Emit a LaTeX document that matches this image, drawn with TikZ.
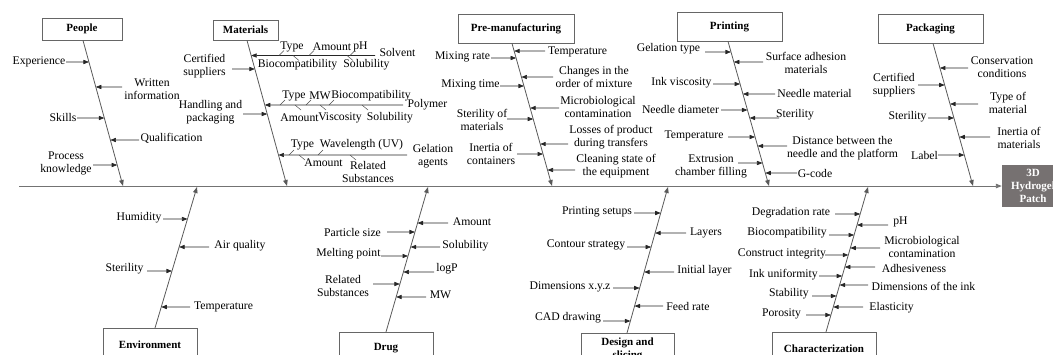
\documentclass[tikz,border=0pt]{standalone}
\usepackage{fontspec}
\setmainfont{Liberation Serif}
\usetikzlibrary{arrows.meta,calc}
\definecolor{headgray}{HTML}{767171}
\definecolor{bonegray}{HTML}{595959}
\definecolor{boxgray}{HTML}{666666}
\newcommand\fblabfont{\fontsize{11.7}{13}\selectfont}
\newcommand\fbcatfont{\fontsize{11}{13}\selectfont\bfseries}
% cause: name, bone prefix, label cx, label cy, text, arrow start x, arrow y
\newcommand\fbcause[7]{%
  \node[lab] (#1) at (#3,#4) {#5};
  \coordinate (#1s) at (#6,#7);
  \coordinate (#1t) at (intersection of #2a--#2b and 0,#7--1,#7);
  \draw[arr] (#1s) -- (#1t);}
% sub label above line: name, cx, cy, text, line y, tick x
\newcommand\fbsubup[6]{%
  \node[lab] (#1) at (#2,#3) {#4};
  \coordinate (#1a) at (#6,#5);
  \draw[tickline] (#1a) -- ++(5,-5);}
\newcommand\fbsubdn[6]{%
  \node[lab] (#1) at (#2,#3) {#4};
  \coordinate (#1a) at (#6,#5);
  \draw[tickline] (#1a) -- ++(6,5);}
\tikzset{
  lab/.style={font=\fblabfont, inner sep=0pt, align=center},
  cat/.style={draw=boxgray, line width=0.8pt, fill=white, font=\fbcatfont, inner sep=2pt, align=center},
  bone/.style={draw=bonegray, line width=0.8pt, -{Triangle[length=6pt,width=4.5pt]}},
  spine/.style={draw=black!55, line width=0.9pt, -{Triangle[length=6pt,width=4.5pt]}},
  arr/.style={draw=black!85, line width=0.6pt, -{Triangle[length=5.5pt,width=4.2pt]}},
  tickline/.style={draw=black!70, line width=0.5pt},
  head/.style={fill=headgray, text=white, font=\fbcatfont, align=center, inner sep=0pt, minimum width=62pt, minimum height=42pt},
}
\begin{document}
\begin{tikzpicture}[x=1pt,y=-1pt]
\useasboundingbox (0,0) rectangle (1053,354);
\clip (0,0) rectangle (1053,354);

% head and spine
\node[head] (H) at (1033,186) {3D\\Hydrogel\\Patch};
\coordinate (S0) at (19,186);
\draw[spine] (S0) -- (H.west);

% category boxes (top)
\node[cat, minimum width=80pt, minimum height=22pt] (People) at (82,29) {People};
\node[cat, minimum width=65pt, minimum height=20pt] (Materials) at (245.5,30) {Materials};
\node[cat, minimum width=116pt, minimum height=29pt] (Pre) at (516,28.5) {Pre-manufacturing};
\node[cat, minimum width=105pt, minimum height=29pt] (Printing) at (729.5,26.5) {Printing};
\node[cat, minimum width=105pt, minimum height=29pt] (Packaging) at (930.5,28.5) {Packaging};
% category boxes (bottom)
\node[cat, anchor=north, minimum width=94pt, minimum height=32pt] (Environment) at (150,328) {Environment};
\node[cat, anchor=north, minimum width=94pt, minimum height=32pt] (Drug) at (386,332) {Drug};
\node[cat, anchor=north, minimum width=93pt, minimum height=32pt, inner ysep=1pt] (Design) at (627.5,333) {Design and\\slicing};
\node[cat, anchor=north, minimum width=104pt, minimum height=32pt] (Char) at (824,332) {Characterization};

% bones
\coordinate (Pa) at (People.south -| 83,0);   \coordinate (Pb) at (123,186);
\coordinate (Ma) at (Materials.south -| 247,0); \coordinate (Mb) at (287,186);
\coordinate (Ra) at (Pre.south -| 512,0);     \coordinate (Rb) at (552,186);
\coordinate (Ta) at (Printing.south -| 728,0); \coordinate (Tb) at (769,186);
\coordinate (Ka) at (Packaging.south -| 933,0); \coordinate (Kb) at (973,186);
\coordinate (Ea) at (Environment.north -| 155,0); \coordinate (Eb) at (197,187);
\coordinate (Da) at (Drug.north -| 386,0);    \coordinate (Db) at (428,187);
\coordinate (Ga) at (Design.north -| 627,0);  \coordinate (Gb) at (668,187);
\coordinate (Ca) at (Char.north -| 826,0);    \coordinate (Cb) at (868,187);
\foreach \b in {P,M,R,T,K,E,D,G,C} {\draw[bone] (\b a) -- (\b b);}

% People
\fbcause{p1}{P}{39}{62}{Experience}{66}{62}
\fbcause{p2}{P}{152}{89.5}{Written\\information}{122}{87}
\fbcause{p3}{P}{63}{117}{Skills}{77}{118}
\fbcause{p4}{P}{171.5}{138}{Qualification}{139}{140}
\fbcause{p5}{P}{66}{163.5}{Process\\knowledge}{93}{165}

% Materials
\fbcause{m1}{M}{204.5}{66}{Certified\\suppliers}{232}{69}
\fbcause{m2}{M}{210.5}{112}{Handling and\\packaging}{243}{114}
\fbcause{ms}{M}{397.5}{52}{Solvent}{375}{55.5}
\fbcause{mp}{M}{427.5}{105}{Polymer}{403}{105}
\fbcause{mg}{M}{433}{156.5}{Gelation\\agents}{407}{155}
% solvent sub-labels
\fbsubup{sa1}{292}{47}{Type}{55.5}{279}
\fbsubup{sa2}{332}{47}{Amount}{55.5}{309}
\fbsubup{sa3}{360.5}{47}{pH}{55.5}{350}
\fbsubdn{sb1}{297.5}{65}{Biocompatibility}{55.5}{293}
\fbsubdn{sb2}{366.5}{65}{Solubility}{55.5}{347}
% polymer sub-labels
\fbsubup{pa1}{294}{96}{Type}{105}{280}
\fbsubup{pa2}{320}{96}{MW}{105}{306}
\fbsubup{pa3}{371}{96}{Biocompatibility}{105}{329}
\fbsubdn{pb1}{299.5}{118}{Amount}{105}{295}
\fbsubdn{pb2}{340}{118}{Viscosity}{105}{320}
\fbsubdn{pb3}{390}{118}{Solubility}{105}{362}
% gelation sub-labels
\fbsubup{ga1}{302.5}{145}{Type}{155}{289}
\fbsubup{ga2}{361.5}{145}{Wavelength (UV)}{155}{318}
\fbsubdn{gb1}{323.5}{163}{Amount}{155}{299}
\fbsubdn{gb2}{368}{171.5}{Related\\Substances}{155}{350}

% Pre-manufacturing
\fbcause{r1}{R}{462.5}{57}{Mixing rate}{491}{58}
\fbcause{r2}{R}{470.5}{85}{Mixing time}{500}{86}
\fbcause{r3}{R}{482}{119.5}{Sterility of\\materials}{507}{119}
\fbcause{r4}{R}{491}{153.5}{Inertia of\\containers}{517}{154}
\fbcause{r5}{R}{577.5}{52}{Temperature}{545}{51}
\fbcause{r6}{R}{594}{77}{Changes in the\\order of mixture}{553}{77}
\fbcause{r7}{R}{598}{106.5}{Microbiological\\contamination}{559}{108}
\fbcause{r8}{R}{611}{137}{Losses of product\\during transfers}{568}{144}
\fbcause{r9}{R}{616}{166}{Cleaning state of\\the equipment}{575}{170}

% Printing
\fbcause{t1}{T}{668.5}{49}{Gelation type}{705}{52}
\fbcause{t2}{T}{681.5}{83}{Ink viscosity}{713}{84}
\fbcause{t3}{T}{680.5}{109}{Needle diameter}{721}{110}
\fbcause{t4}{T}{694}{136}{Temperature}{728}{137}
\fbcause{t5}{T}{711}{166}{Extrusion\\chamber filling}{738}{163}
\fbcause{t6}{T}{806}{63}{Surface adhesion\\materials}{763}{62}
\fbcause{t7}{T}{814.5}{93}{Needle material}{775}{94}
\fbcause{t8}{T}{795}{115}{Sterility}{779}{118}
\fbcause{t9}{T}{842.5}{148.5}{Distance between the\\needle and the platform}{787}{146}
\fbcause{t10}{T}{815}{173}{G-code}{797}{173}

% Packaging
\fbcause{k1}{K}{894}{85}{Certified\\suppliers}{918}{85}
\fbcause{k2}{K}{907.5}{117}{Sterility}{928}{118}
\fbcause{k3}{K}{924.5}{155}{Label}{938}{155}
\fbcause{k4}{K}{1002}{67}{Conservation\\conditions}{968}{68}
\fbcause{k5}{K}{1008}{102.5}{Type of\\material}{978}{104}
\fbcause{k6}{K}{1019}{138}{Inertia of\\materials}{990}{137}

% Environment
\fbcause{e1}{E}{139}{218}{Humidity}{163}{219}
\fbcause{e2}{E}{240}{246}{Air quality}{209}{247}
\fbcause{e3}{E}{124.5}{269}{Sterility}{147}{271}
\fbcause{e4}{E}{223.5}{307}{Temperature}{190}{307}

% Drug
\fbcause{d1}{D}{472}{222}{Amount}{448}{223}
\fbcause{d2}{D}{352.5}{232}{Particle size}{387}{232}
\fbcause{d3}{D}{465.5}{246}{Solubility}{440}{247}
\fbcause{d4}{D}{348.5}{254}{Melting point}{381}{256}
\fbcause{d5}{D}{447}{269}{logP}{434}{272}
\fbcause{d6}{D}{343}{285.5}{Related\\Substances}{373}{284}
\fbcause{d7}{D}{440.5}{295}{MW}{426}{297}

% Design and slicing
\fbcause{g1}{G}{597}{212}{Printing setups}{634}{213}
\fbcause{g2}{G}{706}{233}{Layers}{686}{233}
\fbcause{g3}{G}{586}{245}{Contour strategy}{627}{247}
\fbcause{g4}{G}{704.5}{271}{Initial layer}{674}{272}
\fbcause{g5}{G}{570}{287}{Dimensions x.y.z}{613}{288}
\fbcause{g6}{G}{688}{306}{Feed rate}{663}{306}
\fbcause{g7}{G}{568}{318}{CAD drawing}{603}{321}

% Characterization
\fbcause{c1}{C}{791}{213}{Degradation rate}{835}{214}
\fbcause{c2}{C}{900.5}{222}{pH}{888}{225}
\fbcause{c3}{C}{787}{233}{Biocompatibility}{829}{235}
\fbcause{c4}{C}{922}{247}{Microbiological\\contamination}{880}{248}
\fbcause{c5}{C}{782}{254}{Construct integrity}{825}{255}
\fbcause{c6}{C}{914}{268}{Adhesiveness}{875}{267}
\fbcause{c7}{C}{783.5}{275}{Ink uniformity}{819}{276}
\fbcause{c8}{C}{923.5}{286}{Dimensions of the ink}{868}{285}
\fbcause{c9}{C}{789}{294}{Stability}{812}{296}
\fbcause{c10}{C}{891.5}{308}{Elasticity}{863}{307}
\fbcause{c11}{C}{781.5}{314}{Porosity}{806}{315}
\end{tikzpicture}
\end{document}
